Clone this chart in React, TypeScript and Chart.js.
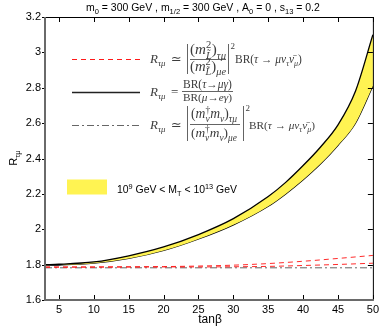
import React, { useEffect, useRef } from "react";
import { Chart, registerables } from "chart.js";

Chart.register(...registerables);

// ---- data ----
const tanBeta = [3, 5, 10, 15, 20, 25, 30, 35, 37.5, 40, 42.5, 45, 47.5, 50];
const bandUpper = [1.8, 1.802, 1.815, 1.85, 1.9, 1.97, 2.06, 2.185, 2.265, 2.36, 2.465, 2.59, 2.78, 3.1];
const bandLower = [1.797, 1.798, 1.808, 1.835, 1.88, 1.945, 2.025, 2.13, 2.2, 2.28, 2.37, 2.475, 2.6, 2.81];

const redTanBeta = [3, 10, 20, 25, 30, 35, 40, 45, 50];
const redUpper = [1.786, 1.787, 1.789, 1.792, 1.797, 1.806, 1.819, 1.835, 1.852];
const redLower = [1.786, 1.786, 1.787, 1.787, 1.788, 1.79, 1.795, 1.801, 1.808];

const grayTanBeta = [3, 50];
const grayValues = [1.782, 1.782];

const xTickValues = [5, 10, 15, 20, 25, 30, 35, 40, 45, 50];
const yTickValues = [1.6, 1.8, 2.0, 2.2, 2.4, 2.6, 2.8, 3.0, 3.2];

const SANS = '"Liberation Sans", Arial, Helvetica, sans-serif';
const SERIF = '"Liberation Serif", "DejaVu Serif", "Times New Roman", serif';
const YELLOW = "#fff352";

type Seg = { t: string; k?: number; dy?: number; it?: boolean; stack?: boolean };

function rich(ctx: CanvasRenderingContext2D, segs: Seg[], x: number, y: number, base: number, family: string, draw: boolean): number {
  let cx = x;
  let pend = 0;
  for (const g of segs) {
    const size = base * (g.k ?? 1);
    ctx.font = `${g.it ? "italic " : ""}${size}px ${family}`;
    const w = ctx.measureText(g.t).width;
    if (draw) ctx.fillText(g.t, cx, y + (g.dy ?? 0) * base);
    if (g.stack) {
      pend = Math.max(pend, w);
    } else {
      cx += Math.max(w, pend);
      pend = 0;
    }
  }
  return cx - x;
}

function fitRich(ctx: CanvasRenderingContext2D, segs: Seg[], x: number, y: number, width: number, family: string, align: "left" | "center") {
  const w10 = rich(ctx, segs, 0, 0, 10, family, false);
  const base = (10 * width) / w10;
  const x0 = align === "center" ? x - width / 2 : x;
  rich(ctx, segs, x0, y, base, family, true);
}

const titleSegs: Seg[] = [
  { t: "m" }, { t: "0", k: 0.72, dy: 0.3 },
  { t: " = 300 GeV , m" }, { t: "1/2", k: 0.72, dy: 0.3 },
  { t: " = 300 GeV , A" }, { t: "0", k: 0.72, dy: 0.3 },
  { t: " = 0 , s" }, { t: "13", k: 0.72, dy: 0.3 },
  { t: " = 0.2" },
];

const bandLabelSegs: Seg[] = [
  { t: "10" }, { t: "9", k: 0.7, dy: -0.42 },
  { t: " GeV < M" }, { t: "T", k: 0.7, dy: 0.3 },
  { t: " < 10" }, { t: "13", k: 0.7, dy: -0.42 },
  { t: " GeV" },
];

const rSegs: Seg[] = [{ t: "R", it: true }, { t: "τμ", it: true, k: 0.68, dy: 0.25 }];

const brSegs: Seg[] = [
  { t: "BR(" }, { t: "τ", it: true }, { t: " → " }, { t: "μν", it: true },
  { t: "τ", it: true, k: 0.7, dy: 0.25 }, { t: "ν̄", it: true }, { t: "μ", it: true, k: 0.7, dy: 0.25 }, { t: ")" },
];

const num1: Seg[] = [
  { t: "(" }, { t: "m", it: true }, { t: "2", k: 0.7, dy: -0.4, stack: true }, { t: "L̃", it: true, k: 0.7, dy: 0.3 },
  { t: ")" }, { t: "τμ", it: true, k: 0.7, dy: 0.3 },
];
const den1: Seg[] = [
  { t: "(" }, { t: "m", it: true }, { t: "2", k: 0.7, dy: -0.4, stack: true }, { t: "L̃", it: true, k: 0.7, dy: 0.3 },
  { t: ")" }, { t: "μe", it: true, k: 0.7, dy: 0.3 },
];
const num3: Seg[] = [
  { t: "(" }, { t: "m", it: true }, { t: "†", k: 0.7, dy: -0.4, stack: true }, { t: "ν", it: true, k: 0.7, dy: 0.3 },
  { t: "m", it: true }, { t: "ν", it: true, k: 0.7, dy: 0.3 }, { t: ")" }, { t: "τμ", it: true, k: 0.7, dy: 0.3 },
];
const den3: Seg[] = [
  { t: "(" }, { t: "m", it: true }, { t: "†", k: 0.7, dy: -0.4, stack: true }, { t: "ν", it: true, k: 0.7, dy: 0.3 },
  { t: "m", it: true }, { t: "ν", it: true, k: 0.7, dy: 0.3 }, { t: ")" }, { t: "μe", it: true, k: 0.7, dy: 0.3 },
];
const num2: Seg[] = [{ t: "BR(" }, { t: "τ", it: true }, { t: "→" }, { t: "μγ", it: true }, { t: ")" }];
const den2: Seg[] = [{ t: "BR(" }, { t: "μ", it: true }, { t: "→" }, { t: "eγ", it: true }, { t: ")" }];

const framePlugin = {
  id: "frameAndText",
  afterDatasetsDraw(chart: any) {
    const { ctx, chartArea: a, scales } = chart;
    ctx.save();
    ctx.strokeStyle = "#000";
    ctx.lineWidth = 1;
    ctx.beginPath();
    for (const v of xTickValues) {
      const px = Math.round(scales.x.getPixelForValue(v)) + 0.5;
      ctx.moveTo(px, a.bottom);
      ctx.lineTo(px, a.bottom - 5);
      ctx.moveTo(px, a.top);
      ctx.lineTo(px, a.top + 5);
    }
    for (const v of yTickValues) {
      const py = Math.round(scales.y.getPixelForValue(v)) + 0.5;
      ctx.moveTo(a.left - 3, py);
      ctx.lineTo(a.left, py);
      ctx.moveTo(a.right, py);
      ctx.lineTo(a.right - 5, py);
    }
    ctx.stroke();
    // frame
    ctx.beginPath();
    ctx.moveTo(a.left, a.top + 0.5);
    ctx.lineTo(a.right + 0.5, a.top + 0.5);
    ctx.lineTo(a.right + 0.5, a.bottom);
    ctx.stroke();
    ctx.strokeStyle = "#6a6a6a";
    ctx.lineWidth = 2;
    ctx.beginPath();
    ctx.moveTo(a.left, a.top);
    ctx.lineTo(a.left, a.bottom);
    ctx.lineTo(a.right + 1, a.bottom);
    ctx.stroke();

    // ---- title ----
    ctx.fillStyle = "#000";
    ctx.textAlign = "left";
    ctx.textBaseline = "alphabetic";
    fitRich(ctx, titleSegs, 203, 11, 234, SANS, "center");

    // ---- axis titles ----
    ctx.font = `12px ${SANS}`;
    ctx.textAlign = "center";
    ctx.textBaseline = "alphabetic";
    ctx.fillText("tanβ", 210, 323);
    ctx.save();
    ctx.translate(17, 158);
    ctx.rotate(-Math.PI / 2);
    ctx.textAlign = "left";
    const rw = rich(ctx, [{ t: "R" }, { t: "τμ", k: 0.7, dy: 0.3 }], 0, 0, 11, SANS, false);
    rich(ctx, [{ t: "R" }, { t: "τμ", k: 0.7, dy: 0.3 }], -rw / 2, 0, 11, SANS, true);
    ctx.restore();

    // ---- legend samples ----
    const sx0 = 72, sx1 = 140;
    ctx.lineWidth = 1;
    ctx.strokeStyle = "#ff1a1a";
    ctx.setLineDash([5, 4]);
    ctx.beginPath();
    ctx.moveTo(sx0, 59.5);
    ctx.lineTo(sx1, 59.5);
    ctx.stroke();
    ctx.strokeStyle = "#222";
    ctx.lineWidth = 1.3;
    ctx.setLineDash([]);
    ctx.beginPath();
    ctx.moveTo(sx0, 92.5);
    ctx.lineTo(sx1, 92.5);
    ctx.stroke();
    ctx.strokeStyle = "#666";
    ctx.lineWidth = 1;
    ctx.setLineDash([7, 3, 2, 3]);
    ctx.beginPath();
    ctx.moveTo(sx0, 125.5);
    ctx.lineTo(sx1, 125.5);
    ctx.stroke();
    ctx.setLineDash([]);

    // ---- legend formulas ----
    const tc = "#3c3c3c";
    ctx.fillStyle = tc;
    ctx.strokeStyle = tc;
    ctx.textAlign = "left";
    ctx.lineWidth = 0.8;
    const bar = (x: number, y0: number, y1: number) => {
      ctx.beginPath();
      ctx.moveTo(x, y0);
      ctx.lineTo(x, y1);
      ctx.stroke();
    };
    const hbar = (x0: number, x1: number, y: number) => {
      ctx.beginPath();
      ctx.moveTo(x0, y);
      ctx.lineTo(x1, y);
      ctx.stroke();
    };
    // line 1
    rich(ctx, rSegs, 150, 63, 13, SERIF, true);
    ctx.font = `13px ${SERIF}`;
    ctx.fillText("≃", 171, 63);
    bar(187.5, 44, 74);
    fitRich(ctx, num1, 208, 54, 36, SERIF, "center");
    hbar(190, 226, 59.5);
    fitRich(ctx, den1, 208, 71, 36, SERIF, "center");
    bar(228.5, 44, 74);
    ctx.font = `9px ${SERIF}`;
    ctx.fillText("2", 230.5, 49);
    fitRich(ctx, brSegs, 235, 63, 67, SERIF, "left");
    // line 2
    rich(ctx, rSegs, 150, 96, 13, SERIF, true);
    ctx.font = `13px ${SERIF}`;
    ctx.fillText("=", 171, 96);
    fitRich(ctx, num2, 207.5, 88, 49, SERIF, "center");
    hbar(182, 233, 91.5);
    fitRich(ctx, den2, 207.5, 101, 49, SERIF, "center");
    // line 3
    rich(ctx, rSegs, 150, 128.5, 13, SERIF, true);
    ctx.font = `13px ${SERIF}`;
    ctx.fillText("≃", 171, 128.5);
    bar(187.5, 106, 141);
    fitRich(ctx, num3, 214, 118, 46, SERIF, "center");
    hbar(190, 240, 124.5);
    fitRich(ctx, den3, 214, 137, 46, SERIF, "center");
    bar(243.5, 106, 141);
    ctx.font = `9px ${SERIF}`;
    ctx.fillText("2", 245.5, 111);
    fitRich(ctx, brSegs, 249, 129, 66, SERIF, "left");

    // ---- band legend ----
    ctx.fillStyle = YELLOW;
    ctx.fillRect(67, 179.5, 40, 15);
    ctx.fillStyle = "#000";
    fitRich(ctx, bandLabelSegs, 117, 193, 120, SANS, "left");

    ctx.restore();
  },
};

export default function App() {
  const ref = useRef<HTMLCanvasElement | null>(null);

  useEffect(() => {
    const canvas = ref.current;
    if (!canvas) return;
    const common = { pointRadius: 0, pointHoverRadius: 0, cubicInterpolationMode: "monotone" as const };
    const chart = new Chart(canvas, {
      type: "line",
      data: {
        datasets: [
          {
            label: "band upper",
            data: tanBeta.map((x, i) => ({ x, y: bandUpper[i] })),
            borderColor: "#000",
            borderWidth: 1.3,
            backgroundColor: YELLOW,
            fill: "+1",
            ...common,
          },
          {
            label: "band lower",
            data: tanBeta.map((x, i) => ({ x, y: bandLower[i] })),
            borderColor: "#000",
            borderWidth: 1.3,
            fill: false,
            ...common,
          },
          {
            label: "red upper",
            data: redTanBeta.map((x, i) => ({ x, y: redUpper[i] })),
            borderColor: "rgba(255,20,20,0.9)",
            borderWidth: 1,
            borderDash: [5, 4],
            fill: false,
            ...common,
          },
          {
            label: "red lower",
            data: redTanBeta.map((x, i) => ({ x, y: redLower[i] })),
            borderColor: "rgba(255,20,20,0.9)",
            borderWidth: 1,
            borderDash: [5, 4],
            fill: false,
            ...common,
          },
          {
            label: "gray",
            data: grayTanBeta.map((x, i) => ({ x, y: grayValues[i] })),
            borderColor: "#666",
            borderWidth: 1,
            borderDash: [7, 3, 2, 3],
            fill: false,
            ...common,
          },
        ],
      },
      options: {
        animation: false,
        responsive: false,
        events: [],
        layout: { padding: { top: 17, right: 8, left: 0, bottom: 0 } },
        plugins: {
          legend: { display: false },
          title: { display: false },
          tooltip: { enabled: false },
        },
        scales: {
          x: {
            type: "linear",
            min: 3,
            max: 50,
            afterFit: (s: any) => {
              s.height = 27;
            },
            afterBuildTicks: (s: any) => {
              s.ticks = xTickValues.map((v) => ({ value: v }));
            },
            ticks: {
              color: "#000",
              font: { family: SANS, size: 11 },
              padding: 3,
              maxRotation: 0,
              autoSkip: false,
              callback: (v: any) => String(v),
            },
            grid: { display: false, drawTicks: false },
            border: { display: false },
          },
          y: {
            type: "linear",
            min: 1.6,
            max: 3.2,
            afterFit: (s: any) => {
              s.width = 45;
            },
            afterBuildTicks: (s: any) => {
              s.ticks = yTickValues.map((v) => ({ value: v }));
            },
            ticks: {
              color: "#000",
              font: { family: SANS, size: 11 },
              padding: 4,
              autoSkip: false,
              callback: (v: any) => String(+Number(v).toFixed(1)),
            },
            grid: { display: false, drawTicks: false },
            border: { display: false },
          },
        },
      },
      plugins: [framePlugin],
    });
    return () => chart.destroy();
  }, []);

  return (
    <div style={{ position: "fixed", left: 0, top: 0, width: 382, height: 327, background: "#fff" }}>
      <canvas ref={ref} width={382} height={327} style={{ display: "block", width: 382, height: 327 }} />
    </div>
  );
}
